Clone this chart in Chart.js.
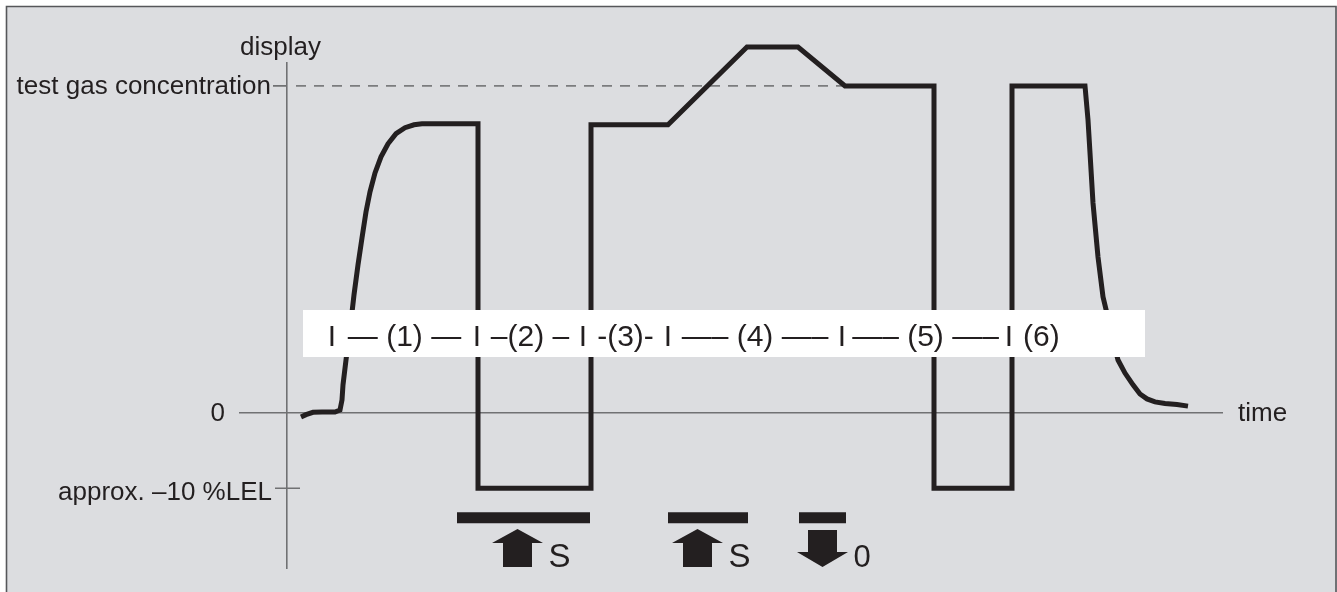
<!DOCTYPE html>
<html><head><meta charset="utf-8">
<script src="https://cdn.jsdelivr.net/npm/chart.js@4.4.1/dist/chart.umd.min.js"></script>
<style>html,body{margin:0;padding:0;background:#fff;overflow:hidden}canvas{display:block}</style>
</head><body>
<canvas id="c" width="1337" height="592"></canvas>
<script>
// Schematic units: time (arbitrary), display with test gas concentration = 100
const timeValues = [1.4,1.9,2.6,3.5,4.8,5.3,5.5,5.6,5.9,6.3,6.7,7.1,7.5,7.9,8.3,8.8,9.4,10.1,10.9,11.8,12.7,13.5,19.1,19.1,30.4,30.4,38.1,46.0,51.1,55.8,64.7,64.7,72.5,72.5,79.8,80.1,80.3,80.6,81.1,81.6,82.1,82.6,83.1,83.8,84.6,85.3,86.0,86.8,87.8,89.0,90.1];
const displayValues = [-1.2,-0.5,0.2,0.3,0.3,0.9,4.0,8.6,16.2,25.4,36.1,45.3,53.5,61.5,67.6,73.4,78.3,82.3,85.4,87.2,88.1,88.4,88.4,-23,-23,88.1,88.1,111.9,111.9,100,100,-23,-23,100,100,89.6,79.5,64.2,47.7,35.5,29.1,22.3,16.2,12.2,8.6,5.8,4.3,3.4,2.9,2.6,2.1];

const yTickValues = [100, 0, -23];
const yTickLabels = ['test gas concentration', '0', 'approx. \u201310 %LEL'];
const testGasValue = 100;
const testGasLineStart = 0.9;
const testGasLineEnd = 55.7;

const gasBarStart = [17.0, 38.1, 51.2];
const gasBarEnd = [30.3, 46.1, 55.9];
const gasBarLevel = -32;

const arrowTimes = [23.05, 41.05, 53.55];
const arrowDirs = ['up', 'up', 'down'];
const arrowLabels = ['S', 'S', '0'];

const phaseBounds = [4.5, 19.0, 29.6, 38.1, 55.5, 72.2];
const phaseTexts = ['\u2014 (1) \u2014', '\u2013(2) \u2013', '-(3)-', '\u2014\u2013 (4) \u2014\u2013', '\u2014\u2013 (5) \u2014\u2013', '(6)'];

const xMin = -4.8, xMax = 93.6, yMin = -47.7, yMax = 107.3;
const axisLabelY = 'display';
const axisLabelX = 'time';

const INK = '#231f20';
const AXIS = '#707173';
const FONT = '"Liberation Sans", Arial, Helvetica, sans-serif';

const curve = timeValues.map((t, i) => ({x: t, y: displayValues[i]}));
const barData = [];
gasBarStart.forEach((s, i) => {
  barData.push({x: s, y: gasBarLevel}, {x: gasBarEnd[i], y: gasBarLevel}, {x: gasBarEnd[i], y: null});
});

const deco = {
  id: 'deco',
  beforeDraw(chart) {
    const ctx = chart.ctx, W = chart.width, H = chart.height;
    ctx.save();
    ctx.fillStyle = '#ffffff'; ctx.fillRect(0, 0, W, H);
    ctx.fillStyle = '#dcdde0'; ctx.fillRect(6, 6, W - 6, H - 6);
    ctx.strokeStyle = '#56575a'; ctx.lineWidth = 1.6;
    ctx.beginPath();
    ctx.moveTo(6.5, H); ctx.lineTo(6.5, 6.5); ctx.lineTo(W - 1, 6.5); ctx.lineTo(W - 1, H);
    ctx.stroke();
    ctx.restore();
  },
  afterDatasetsDraw(chart) {
    const ctx = chart.ctx, xs = chart.scales.x, ys = chart.scales.y, ca = chart.chartArea;
    const ax = xs.getPixelForValue(0);
    ctx.save();
    // tick marks on the display axis
    ctx.strokeStyle = AXIS; ctx.lineWidth = 1.6;
    const pTest = ys.getPixelForValue(yTickValues[0]);
    const pLel = ys.getPixelForValue(yTickValues[2]);
    ctx.beginPath();
    ctx.moveTo(ax - 14, pTest); ctx.lineTo(ax, pTest);
    ctx.moveTo(ax - 12, pLel); ctx.lineTo(ax + 13, pLel);
    ctx.stroke();

    // axis labels
    ctx.fillStyle = INK;
    ctx.font = '26px ' + FONT;
    ctx.textBaseline = 'alphabetic';
    ctx.textAlign = 'right';
    ctx.fillText(yTickLabels[0], ax - 16, pTest + 8);
    ctx.fillText(yTickLabels[1], ax - 62, ys.getPixelForValue(yTickValues[1]) + 8);
    ctx.fillText(yTickLabels[2], ax - 15, pLel + 12);
    ctx.textAlign = 'left';
    ctx.fillText(axisLabelY, ax - 47, ca.top - 7);
    ctx.fillText(axisLabelX, ca.right + 15, ys.getPixelForValue(0) + 8);

    // phase strip
    ctx.fillStyle = '#ffffff';
    ctx.fillRect(303, 310, 842, 47);
    ctx.fillStyle = INK;
    ctx.font = '30px ' + FONT;
    ctx.textAlign = 'center';
    const base = 346;
    const bp = phaseBounds.map(v => xs.getPixelForValue(v));
    bp.forEach(p => ctx.fillText('I', p, base));
    for (let i = 0; i < phaseTexts.length - 1; i++) {
      ctx.fillText(phaseTexts[i], (bp[i] + bp[i + 1]) / 2, base);
    }
    ctx.textAlign = 'left';
    ctx.fillText(phaseTexts[phaseTexts.length - 1], bp[bp.length - 1] + 14, base);

    // arrows
    arrowTimes.forEach((t, i) => {
      const cx = xs.getPixelForValue(t);
      ctx.fillStyle = INK;
      ctx.beginPath();
      if (arrowDirs[i] === 'up') {
        ctx.moveTo(cx, 529); ctx.lineTo(cx + 25.5, 543); ctx.lineTo(cx + 14.5, 543);
        ctx.lineTo(cx + 14.5, 567); ctx.lineTo(cx - 14.5, 567); ctx.lineTo(cx - 14.5, 543);
        ctx.lineTo(cx - 25.5, 543);
      } else {
        ctx.moveTo(cx - 14.5, 530); ctx.lineTo(cx + 14.5, 530); ctx.lineTo(cx + 14.5, 552);
        ctx.lineTo(cx + 25.5, 552); ctx.lineTo(cx, 567); ctx.lineTo(cx - 25.5, 552);
        ctx.lineTo(cx - 14.5, 552);
      }
      ctx.closePath(); ctx.fill();
      ctx.font = (arrowLabels[i] === 'S' ? '33px ' : '31px ') + FONT;
      ctx.textAlign = 'left';
      ctx.fillText(arrowLabels[i], cx + 31, 567);
    });
    ctx.restore();
  }
};

new Chart(document.getElementById('c'), {
  type: 'line',
  data: {
    datasets: [
      {data: curve, borderColor: INK, borderWidth: 5, pointRadius: 0, tension: 0,
       borderJoinStyle: 'miter', borderCapStyle: 'butt', clip: false, fill: false},
      {data: [{x: testGasLineStart, y: testGasValue}, {x: testGasLineEnd, y: testGasValue}],
       borderColor: '#7b7c7e', borderWidth: 1.6, borderDash: [10, 8], pointRadius: 0, fill: false},
      {data: barData, borderColor: INK, borderWidth: 11, pointRadius: 0, spanGaps: false,
       borderCapStyle: 'butt', fill: false}
    ]
  },
  options: {
    responsive: false, animation: false, events: [],
    layout: {padding: {left: 239, right: 114, top: 62, bottom: 23}},
    plugins: {legend: {display: false}, tooltip: {enabled: false}, title: {display: false}},
    scales: {
      x: {type: 'linear', min: xMin, max: xMax,
          afterBuildTicks: s => { s.ticks = [{value: 0}]; },
          ticks: {display: false}, border: {display: false},
          grid: {color: AXIS, lineWidth: 1.6, drawTicks: false}},
      y: {type: 'linear', min: yMin, max: yMax,
          afterBuildTicks: s => { s.ticks = [{value: 0}]; },
          ticks: {display: false}, border: {display: false},
          grid: {color: AXIS, lineWidth: 1.6, drawTicks: false}}
    }
  },
  plugins: [deco]
});
</script>
</body></html>
